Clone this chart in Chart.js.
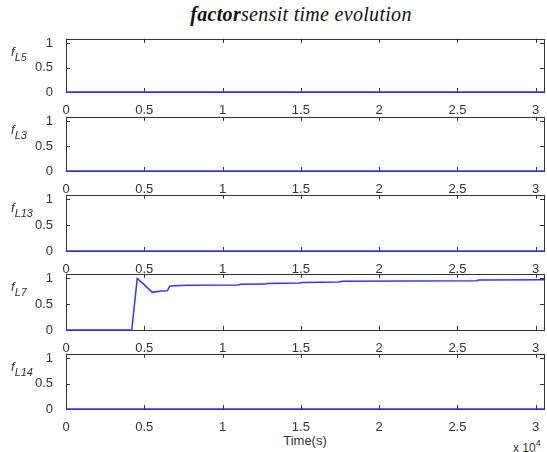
<!DOCTYPE html>
<html>
<head>
<meta charset="utf-8">
<script src="https://cdn.jsdelivr.net/npm/chart.js@4"></script>
<style>
  body { margin: 0; background: #fff; }
  #wrap { position: relative; width: 547px; height: 452px; background: #fff; font-family: "Liberation Sans", Arial, sans-serif; color: #333; }
  #wrap canvas { position: absolute; left: 0; }
  .title { position: absolute; top: 3px; left: 0; width: 602px; text-align: center; font-family: "Liberation Serif", serif; font-style: italic; font-size: 20px; letter-spacing: 0.3px; color: #111; }
  .ylab { position: absolute; left: 11px; font-style: italic; font-size: 13px; color: #333; }
  .ylab sub { font-size: 11px; vertical-align: -5px; }
  .xlab { position: absolute; top: 433px; left: 0; width: 610px; text-align: center; font-size: 13px; }
  .xexp { position: absolute; top: 438px; left: 513px; font-size: 12px; }
  .xexp sup { font-size: 9px; vertical-align: 6px; }
</style>
</head>
<body>
<div id="wrap">
  <div class="title"><b>factor</b>sensit time evolution</div>
  <div class="xlab">Time(s)</div>
  <div class="xexp">x 10<sup>4</sup></div>
</div>
<script>
'use strict';

// time axis (s) and the five factor series
const xMax = 30530;
const xTicks = [0, 5000, 10000, 15000, 20000, 25000, 30000];
const yTicks = [0, 0.5, 1];
const yMax = 1.09;

const panelNames = ['L5', 'L3', 'L13', 'L7', 'L14'];

const timeFlat = [0, 30530];
const fL5 = [0, 0];
const fL3 = [0, 0];
const fL13 = [0, 0];
const fL14 = [0, 0];

const timeL7 = [0, 4200, 4550, 4975, 5510, 6040, 6470, 6640, 7740, 11000, 11150,
    12700, 12850, 14900, 15050, 17450, 17600, 26200, 26350, 30530];
const fL7 = [0, 0, 1.0, 0.885, 0.73, 0.755, 0.76, 0.855, 0.87, 0.875, 0.885,
    0.89, 0.9, 0.91, 0.92, 0.93, 0.945, 0.955, 0.97, 0.975];

const panelTimes = [timeFlat, timeFlat, timeFlat, timeL7, timeFlat];
const panelValues = [fL5, fL3, fL13, fL7, fL14];

// panel boxes in page pixels (top, bottom)
const panelTop = [34, 112, 190, 269, 349];
const panelBottom = [92, 171, 251, 330, 409];

const padTop = 8;
const xAxisH = 24;
const yAxisW = 66;
const tickFont = { family: '"Liberation Sans", Arial, sans-serif', size: 13 };

// matlab style box with inward ticks, drawn under the line
const boxPlugin = {
    id: 'box',
    beforeDatasetsDraw(chart) {
	const ctx = chart.ctx;
	const a = chart.chartArea;
	const xs = chart.scales.x;
	const ys = chart.scales.y;
	ctx.save();
	ctx.strokeStyle = '#333';
	ctx.lineWidth = 1;
	ctx.beginPath();
	xTicks.forEach(v => {
	    const px = Math.round(xs.getPixelForValue(v)) + 0.5;
	    ctx.moveTo(px, a.bottom); ctx.lineTo(px, a.bottom - 4);
	    ctx.moveTo(px, a.top); ctx.lineTo(px, a.top + 4);
	});
	yTicks.forEach(v => {
	    const py = Math.round(ys.getPixelForValue(v)) + 0.5;
	    ctx.moveTo(a.left, py); ctx.lineTo(a.left + 4, py);
	    ctx.moveTo(a.right, py); ctx.lineTo(a.right - 4, py);
	});
	ctx.stroke();
	ctx.strokeRect(Math.round(a.left) + 0.5, Math.round(a.top) + 0.5,
		       Math.round(a.right - a.left), Math.round(a.bottom - a.top));
	ctx.restore();
    },
};

function makePanel(i) {
    const wrap = document.getElementById('wrap');
    const h = panelBottom[i] - panelTop[i] + padTop + xAxisH;
    const canv = document.createElement('canvas');
    canv.style.top = (panelTop[i] - padTop) + 'px';
    canv.style.width = '547px';
    canv.style.height = h + 'px';
    canv.width = 547;
    canv.height = h;
    wrap.appendChild(canv);

    const lab = document.createElement('div');
    lab.className = 'ylab';
    lab.style.top = (panelTop[i] + 10) + 'px';
    lab.innerHTML = 'f<sub>' + panelNames[i] + '</sub>';
    wrap.appendChild(lab);

    const pts = panelTimes[i].map((t, k) => ({ x: t, y: panelValues[i][k] }));

    return new Chart(canv, {
	type: 'line',
	data: {
	    datasets: [{
		label: 'f' + panelNames[i],
		data: pts,
		borderColor: '#3535ff',
		borderWidth: 1.5,
		pointRadius: 0,
		tension: 0,
		fill: false,
		clip: 3,
	    }],
	},
	options: {
	    responsive: false,
	    animation: false,
	    layout: { padding: { top: padTop, right: 3, left: 0, bottom: 0 } },
	    plugins: {
		legend: { display: false },
		tooltip: { enabled: false },
	    },
	    scales: {
		x: {
		    type: 'linear',
		    min: 0,
		    max: xMax,
		    grid: { display: false },
		    border: { display: false },
		    afterBuildTicks: s => { s.ticks = xTicks.map(v => ({ value: v })); },
		    afterFit: s => { s.height = xAxisH; },
		    ticks: {
			autoSkip: false,
			maxRotation: 0,
			padding: 3,
			color: '#333',
			font: tickFont,
			callback: v => String(v / 10000),
		    },
		},
		y: {
		    min: 0,
		    max: yMax,
		    grid: { display: false },
		    border: { display: false },
		    afterBuildTicks: s => { s.ticks = yTicks.map(v => ({ value: v })); },
		    afterFit: s => { s.width = yAxisW; },
		    ticks: {
			padding: 5,
			color: '#333',
			font: tickFont,
			callback: v => String(v),
		    },
		},
	    },
	},
	plugins: [boxPlugin],
    });
}

function main() {
    panelNames.forEach((n, i) => makePanel(i));
}

main();
</script>
</body>
</html>
